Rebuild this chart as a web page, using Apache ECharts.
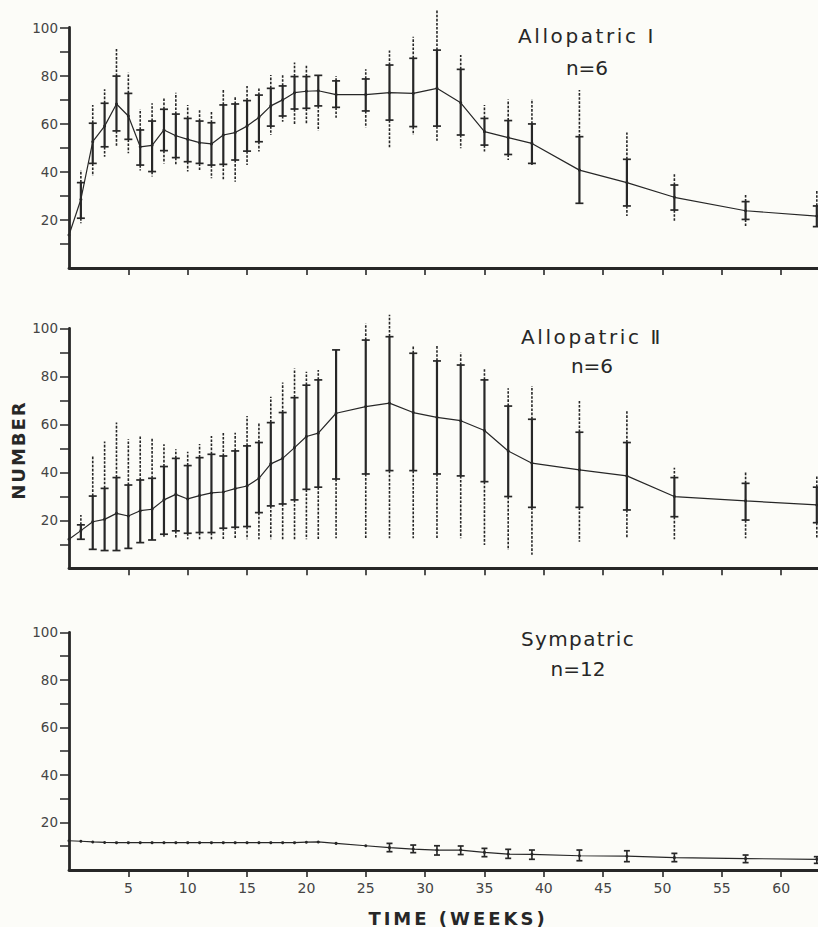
<!DOCTYPE html>
<html><head><meta charset="utf-8">
<script src="https://cdn.jsdelivr.net/npm/echarts@6/dist/echarts.min.js"></script>
<style>html,body{margin:0;padding:0;background:#fcfcf8}#c{width:818px;height:927px}</style>
</head><body><div id="c"></div>
<script>
// ---- data ----
const weeks = [0,1,2,3,4,5,6,7,8,9,10,11,12,13,14,15,16,17,18,19,20,21,22.5,25,27,29,31,33,35,37,39,43,47,51,57,63];
const xTicks = [5,10,15,20,25,30,35,40,45,50,55,60];
const yLabels = [20,40,60,80,100];
const yTicks = [10,20,30,40,50,60,70,80,90,100];

// Allopatric I
const mean1 = [13.7,28.5,52.5,59,68.2,63.2,50.4,51,57.4,55,53.5,52.1,51.6,55.3,56.3,59,62.6,67.4,69.9,72.9,73.5,73.7,72.1,72.1,72.9,72.6,74.7,68.7,56.7,54.2,51.8,40.7,35.5,29.4,23.8,21.6];
const solidHi1 = [null,35.5,60.2,68.5,79.8,72.6,57.4,61.1,66,64,62.2,61.1,60.4,67.8,68.2,69.6,71.9,74.7,75.7,79.6,79.6,80.1,77.8,78.6,84.4,87.2,90.6,82.6,62.2,61.3,59.9,54.6,45.2,34.5,27.6,25.8];
const solidLo1 = [null,20.7,43.5,50.4,57,53.5,42.8,40.1,48.8,45.9,44.2,43.5,42.8,43.1,44.9,48.6,52.5,59,63.2,66.1,66.4,67.4,66.8,65.3,61.5,58.8,59,55.3,51.1,47.2,43.5,26.9,25.8,24.1,20.2,17.2];
const dashHi1 = [null,40.7,67.8,74.3,91.3,81.2,66,68.5,70.5,72.9,67.8,65.7,65,74,71.2,75.7,75.1,80.2,80.2,85.4,84.1,80.1,79.8,82.6,90.4,96.2,107.3,88.6,67.8,70.1,70.3,74,56.3,39.4,30.4,32.2];
const dashLo1 = [null,18.6,38.3,46.3,50.4,47.7,40.5,38,43.5,42.8,40.1,40.1,37.3,36.6,35.9,42.8,48.4,55.3,60.8,59.5,60.2,57.1,62.5,58.4,49.8,55.3,52.9,49.8,48.4,44.9,42.8,26.9,21.6,19.3,17.5,17.2];

// Allopatric II
const mean2 = [12.1,15.7,19.4,20.4,22.9,21.8,24,24.6,28.5,30.8,28.9,30.3,31.4,31.8,33.2,34.3,37.5,43.5,45.8,50.3,54.9,56.3,64.6,67.4,68.8,64.9,62.9,61.5,57.4,48.9,43.8,41,38.5,29.9,28.1,26.4];
const solidHi2 = [null,18.1,30.1,33.3,37.8,34.7,36.8,37.5,42.4,45.8,42.8,46.1,47.5,46.8,48.9,51,52.4,60.7,64.9,71.1,76.3,78.5,91,95.1,96.5,89.6,86.4,84.7,78.5,67.6,62.1,56.7,52.4,37.8,35.4,33.8];
const solidLo2 = [null,12.1,7.9,7.4,7.4,8.3,10.7,11.8,14.2,15.6,14.6,14.9,14.9,16.7,17.1,17.4,23.2,26,26.8,28.5,32.9,33.8,37.2,39.3,40.7,40.7,39.3,38.5,36.1,29.9,25.4,25.4,24.3,21.5,20.1,19];
const dashHi2 = [null,22.2,47.2,52.8,60.7,53.8,54.9,54.2,51.7,49.6,48.6,51.8,55.1,56.9,56.5,63.5,60.7,71.5,77.4,83.3,81.9,82.6,91,102,105.6,92.6,93.1,89.9,82.9,75,76,70.1,65.7,41.9,40,38.2];
const dashLo2 = [null,12.1,7.9,7.4,7.4,8.3,10.7,11.8,12.5,12.5,12.1,12.1,12.1,12.1,12.1,12.1,12.1,12.1,12.1,12.1,12.1,12.1,12.5,12.5,12.5,12.5,12.5,12.5,9.7,7.6,5.6,11.1,12.9,12.1,12.5,12.5];

// Sympatric
const mean3 = [12.3,12.1,11.8,11.6,11.5,11.5,11.5,11.5,11.5,11.5,11.5,11.5,11.5,11.5,11.5,11.5,11.5,11.5,11.5,11.5,11.7,11.8,11.2,10.2,9.4,8.8,8.4,8.4,7.4,6.7,6.6,6,5.8,5.2,4.8,4.5];
const solidHi3 = [null,null,null,null,null,null,null,null,null,null,null,null,null,null,null,null,null,null,null,null,null,null,null,null,11.2,10.5,10.2,10.1,9.1,8.7,8.4,8.4,8.1,7,6.3,5.6];
const solidLo3 = [null,null,null,null,null,null,null,null,null,null,null,null,null,null,null,null,null,null,null,null,null,null,null,null,7.7,7.3,6.3,6.5,5.6,4.9,4.5,3.9,3.5,3.5,3.1,2.8];

const titles = [
  {name:'Allopatric Ⅰ', n:'n=6'},
  {name:'Allopatric Ⅱ', n:'n=6'},
  {name:'Sympatric', n:'n=12'}
];
const yName = 'NUMBER';
const xName = 'TIME (WEEKS)';

// ---- chart ----
const INK = '#272727';
const FONT = '"DejaVu Sans", sans-serif';
const chart = echarts.init(document.getElementById('c'), null, {renderer:'svg'});

const grids = [
  {left:69, right:0, top:27.5, height:240.5},
  {left:69, right:0, top:328.3, height:240},
  {left:69, right:0, top:632.3, height:237.7}
];

function xAxisFor(i){
  return {
    type:'value', gridIndex:i, min:0, max:63.1,
    axisLine:{show:true, lineStyle:{color:INK, width:2.8}},
    axisTick:{show:true, customValues:xTicks, length:7, lineStyle:{color:INK, width:1.6}},
    axisLabel:{show:i===2, customValues:xTicks, color:'#444', fontSize:14, fontFamily:FONT, margin:11},
    splitLine:{show:false}
  };
}
function yAxisFor(i){
  return {
    type:'value', gridIndex:i, min:0, max:100,
    axisLine:{show:true, lineStyle:{color:INK, width:2.8}},
    axisTick:{show:true, customValues:yTicks, length:9, lineStyle:{color:INK, width:1.5}},
    axisLabel:{show:true, customValues:yLabels, color:'#444', fontSize:13.5, fontFamily:FONT, margin:11},
    splitLine:{show:false}
  };
}

function makeBars(mean, sLo, sHi, dLo, dHi, cap, sw){
  const data = [];
  for (let i=0;i<weeks.length;i++){
    if (sLo[i]==null) continue;
    data.push([weeks[i], mean[i], sLo[i], sHi[i], dLo?dLo[i]:sLo[i], dHi?dHi[i]:sHi[i]]);
  }
  return {data, cap, sw};
}

function barSeries(idx, b){
  return {
    type:'custom', xAxisIndex:idx, yAxisIndex:idx, clip:false, z:3,
    data:b.data,
    renderItem:function(params, api){
      const x = api.value(0);
      const pLo = api.coord([x, api.value(2)]);
      const pHi = api.coord([x, api.value(3)]);
      const pdLo = api.coord([x, api.value(4)]);
      const pdHi = api.coord([x, api.value(5)]);
      const cx = pLo[0];
      const children = [];
      if (pdHi[1] < pHi[1]-0.5) children.push({type:'line', shape:{x1:cx,y1:pHi[1],x2:cx,y2:pdHi[1]}, style:{stroke:INK, lineWidth:1.6, lineDash:[2.6,1.5]}});
      if (pdLo[1] > pLo[1]+0.5) children.push({type:'line', shape:{x1:cx,y1:pLo[1],x2:cx,y2:pdLo[1]}, style:{stroke:INK, lineWidth:1.6, lineDash:[2.6,1.5]}});
      children.push({type:'line', shape:{x1:cx,y1:pLo[1],x2:cx,y2:pHi[1]}, style:{stroke:INK, lineWidth:b.sw}});
      children.push({type:'line', shape:{x1:cx-b.cap,y1:pLo[1],x2:cx+b.cap,y2:pLo[1]}, style:{stroke:INK, lineWidth:1.7}});
      children.push({type:'line', shape:{x1:cx-b.cap,y1:pHi[1],x2:cx+b.cap,y2:pHi[1]}, style:{stroke:INK, lineWidth:1.7}});
      return {type:'group', children};
    }
  };
}

function lineSeries(idx, mean){
  return {
    type:'line', xAxisIndex:idx, yAxisIndex:idx, z:4,
    data: weeks.map((w,i)=>[w, mean[i]]),
    symbol:'circle', symbolSize:3, showSymbol:true,
    lineStyle:{color:INK, width:1.2}, itemStyle:{color:INK},
    silent:true
  };
}

const bars1 = makeBars(mean1, solidLo1, solidHi1, dashLo1, dashHi1, 4, 2.2);
const bars2 = makeBars(mean2, solidLo2, solidHi2, dashLo2, dashHi2, 4, 2.2);
const bars3 = makeBars(mean3, solidLo3, solidHi3, null, null, 3, 1.6);

const titlePos = [
  {x:587, y1:36, y2:67.5},
  {x:592, y1:337, y2:366},
  {x:578, y1:639, y2:669}
];
const graphics = [];
titles.forEach((t,i)=>{
  graphics.push({type:'text', x:titlePos[i].x, y:titlePos[i].y1, style:{text:t.name, fill:INK, font:'20px '+FONT, textAlign:'center', textVerticalAlign:'middle'}});
  graphics.push({type:'text', x:titlePos[i].x, y:titlePos[i].y2, style:{text:t.n, fill:INK, font:'20px '+FONT, textAlign:'center', textVerticalAlign:'middle'}});
});
graphics.push({type:'text', x:18.5, y:450, rotation:Math.PI/2, style:{text:yName, fill:INK, font:'bold 18px '+FONT, textAlign:'center', textVerticalAlign:'middle'}});
graphics.push({type:'text', x:458, y:918, style:{text:xName, fill:INK, font:'bold 18px '+FONT, textAlign:'center', textVerticalAlign:'middle'}});

chart.setOption({
  animation:false,
  backgroundColor:'#fcfcf8',
  grid:grids,
  xAxis:[xAxisFor(0), xAxisFor(1), xAxisFor(2)],
  yAxis:[yAxisFor(0), yAxisFor(1), yAxisFor(2)],
  series:[
    barSeries(0,bars1), lineSeries(0,mean1),
    barSeries(1,bars2), lineSeries(1,mean2),
    barSeries(2,bars3), lineSeries(2,mean3)
  ],
  graphic:graphics
});

// widen letter spacing of the typeset headings (as in the original lettering)
const spacing = {};
spacing[titles[0].name] = 2.6; spacing[titles[1].name] = 2.6; spacing[titles[2].name] = 1.4;
spacing[yName] = 2; spacing[xName] = 3;
function applySpacing(){
  document.querySelectorAll('#c svg text').forEach(function(t){
    const s = spacing[t.textContent];
    if (s) t.style.letterSpacing = s + 'px';
  });
}
chart.on('finished', applySpacing);
setTimeout(applySpacing, 50);
</script></body></html>
